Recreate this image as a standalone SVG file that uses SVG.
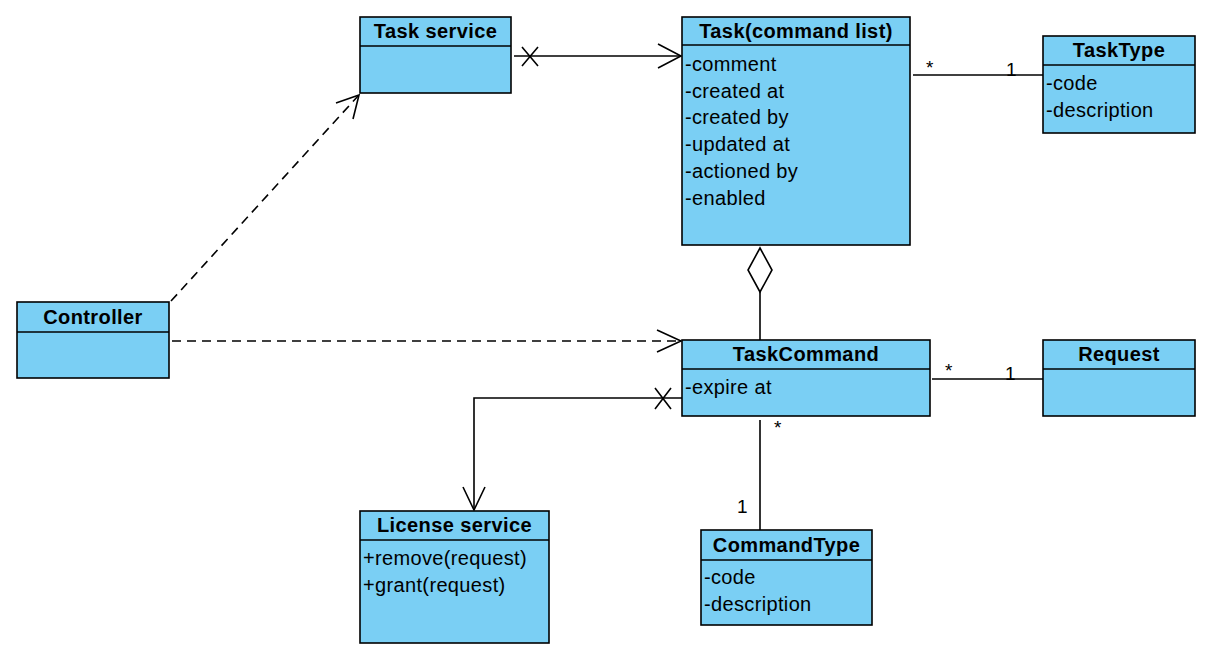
<svg xmlns="http://www.w3.org/2000/svg" width="1214" height="663" viewBox="0 0 1214 663">
<style>
.box{fill:#7ACFF4;stroke:#000;stroke-width:1.6}
.sep{stroke:#000;stroke-width:1.6}
.t{font-family:"Liberation Sans",Arial,sans-serif;font-size:20px;letter-spacing:0.4px;font-weight:bold;text-anchor:middle;fill:#000}
.a{font-family:"Liberation Sans",Arial,sans-serif;font-size:20px;letter-spacing:0.35px;fill:#000}
.m{font-family:"Liberation Sans",Arial,sans-serif;font-size:19px;fill:#000}
.ln{fill:none;stroke:#000;stroke-width:1.6}
.dash{fill:none;stroke:#000;stroke-width:1.6;stroke-dasharray:9 6}
</style>
<rect width="1214" height="663" fill="#fff"/>
<g id="connectors">
  <!-- Task service -> Task -->
  <path class="ln" d="M514 56 H681"/>
  <path class="ln" d="M522 47 L538 66 M538 47 L522 66"/>
  <path class="ln" d="M658 44 L681 56 L658 68"/>
  <!-- Task - TaskType -->
  <path class="ln" d="M913 75 H1043"/>
  <text class="m" x="926" y="74">*</text>
  <text class="m" x="1006" y="76">1</text>
  <!-- Controller -> Task service -->
  <path class="dash" d="M171 301 L358 96"/>
  <path class="ln" d="M336 103 L359 95 L353 119"/>
  <!-- Controller -> TaskCommand -->
  <path class="dash" d="M172 341 H680"/>
  <path class="ln" d="M657 330 L681 341 L657 352"/>
  <!-- Aggregation -->
  <path class="ln" d="M760 248 L772 270 L760 292 L748 270 Z" fill="#fff"/>
  <path class="ln" d="M760 292 V340"/>
  <!-- TaskCommand - Request -->
  <path class="ln" d="M932 379 H1043"/>
  <text class="m" x="945" y="377">*</text>
  <text class="m" x="1005" y="380">1</text>
  <!-- TaskCommand - CommandType -->
  <path class="ln" d="M760 420 V530"/>
  <text class="m" x="774" y="434">*</text>
  <text class="m" x="737" y="513">1</text>
  <!-- TaskCommand -> License service -->
  <path class="ln" d="M682 398 H474 V510"/>
  <path class="ln" d="M655 388 L671 409 M671 388 L655 409"/>
  <path class="ln" d="M463 487 L474 510 L485 487"/>
</g>
<g id="task-service">
  <rect class="box" x="360" y="17" width="151" height="76"/>
  <path class="sep" d="M360 46 H511"/>
  <text class="t" x="435.5" y="37.5">Task service</text>
</g>
<g id="task">
  <rect class="box" x="682" y="17" width="228" height="228"/>
  <path class="sep" d="M682 45 H910"/>
  <text class="t" x="796" y="37.5">Task(command list)</text>
  <text class="a" x="685" y="71">-comment</text>
  <text class="a" x="685" y="97.7">-created at</text>
  <text class="a" x="685" y="124.4">-created by</text>
  <text class="a" x="685" y="151">-updated at</text>
  <text class="a" x="685" y="177.8">-actioned by</text>
  <text class="a" x="685" y="204.5">-enabled</text>
</g>
<g id="tasktype">
  <rect class="box" x="1043" y="36" width="152" height="97"/>
  <path class="sep" d="M1043 65 H1195"/>
  <text class="t" x="1119" y="57">TaskType</text>
  <text class="a" x="1046" y="90">-code</text>
  <text class="a" x="1046" y="116.5">-description</text>
</g>
<g id="controller">
  <rect class="box" x="17" y="302" width="152" height="76"/>
  <path class="sep" d="M17 332 H169"/>
  <text class="t" x="93" y="323.5">Controller</text>
</g>
<g id="taskcommand">
  <rect class="box" x="682" y="340" width="248" height="76"/>
  <path class="sep" d="M682 369 H930"/>
  <text class="t" x="806" y="361">TaskCommand</text>
  <text class="a" x="685" y="393.5">-expire at</text>
</g>
<g id="request">
  <rect class="box" x="1043" y="340" width="152" height="76"/>
  <path class="sep" d="M1043 369 H1195"/>
  <text class="t" x="1119" y="361">Request</text>
</g>
<g id="license-service">
  <rect class="box" x="360" y="511" width="189" height="132"/>
  <path class="sep" d="M360 540 H549"/>
  <text class="t" x="454.5" y="532">License service</text>
  <text class="a" x="363" y="565">+remove(request)</text>
  <text class="a" x="363" y="591.7">+grant(request)</text>
</g>
<g id="commandtype">
  <rect class="box" x="701" y="530" width="171" height="95"/>
  <path class="sep" d="M701 560 H872"/>
  <text class="t" x="786.5" y="551.5">CommandType</text>
  <text class="a" x="704" y="584">-code</text>
  <text class="a" x="704" y="610.5">-description</text>
</g>
</svg>
